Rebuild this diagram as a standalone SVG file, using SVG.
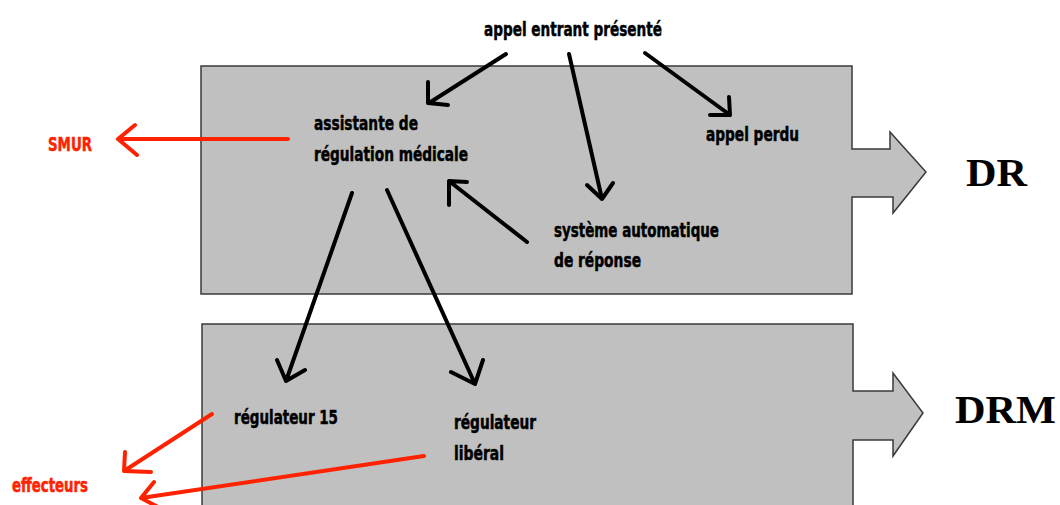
<svg xmlns="http://www.w3.org/2000/svg" width="1060" height="505" viewBox="0 0 1060 505">
<style>
.box{fill:#c0c0c0;stroke:#3a3a3a;stroke-width:1.5}
.t{font-family:"Liberation Sans Narrow","DejaVu Sans Condensed","Liberation Sans",sans-serif;font-weight:bold;font-size:19.5px;fill:#000;stroke:#000;stroke-width:0.5}
.r{fill:#ff2200;stroke:#ff2200}
.big{font-family:"Liberation Serif","Times New Roman",serif;font-weight:bold;font-size:41px;fill:#000}
.a{fill:none;stroke:#000;stroke-width:4;stroke-linecap:round;stroke-linejoin:round}
.ra{fill:none;stroke:#ff2200;stroke-width:4;stroke-linecap:round;stroke-linejoin:round}
</style>
<rect width="1060" height="505" fill="#fff"/>
<g id="DR">
<path class="box" d="M201,66 H852 V149 H890 V132 L926,172 L893,213 V197 H852 V294 H201 Z"/>
<text class="big" x="966" y="186" textLength="61" lengthAdjust="spacingAndGlyphs">DR</text>
</g>
<g id="DRM">
<path class="box" d="M202,324 H853 V391 H893 V373 L923,413 L893,456 V440 H853 V512 H202 Z"/>
<text class="big" x="955" y="423" textLength="101" lengthAdjust="spacingAndGlyphs">DRM</text>
</g>
<g id="appel-entrant"><text class="t" x="484" y="36" textLength="178" lengthAdjust="spacingAndGlyphs">appel entrant présenté</text></g>
<g id="assistante">
<text class="t" x="314" y="130" textLength="104" lengthAdjust="spacingAndGlyphs">assistante de</text>
<text class="t" x="314" y="161" textLength="154" lengthAdjust="spacingAndGlyphs">régulation médicale</text>
</g>
<g id="appel-perdu"><text class="t" x="706" y="141" textLength="93" lengthAdjust="spacingAndGlyphs">appel perdu</text></g>
<g id="systeme">
<text class="t" x="554" y="237" textLength="165" lengthAdjust="spacingAndGlyphs">système automatique</text>
<text class="t" x="554" y="267" textLength="87" lengthAdjust="spacingAndGlyphs">de réponse</text>
</g>
<g id="regulateur15"><text class="t" x="234" y="424" textLength="104" lengthAdjust="spacingAndGlyphs">régulateur 15</text></g>
<g id="regulateur-liberal">
<text class="t" x="454" y="429" textLength="82" lengthAdjust="spacingAndGlyphs">régulateur</text>
<text class="t" x="454" y="460" textLength="50" lengthAdjust="spacingAndGlyphs">libéral</text>
</g>
<g id="smur"><text class="t r" x="48" y="151" textLength="44" lengthAdjust="spacingAndGlyphs">SMUR</text></g>
<g id="effecteurs"><text class="t r" x="12" y="492" textLength="76" lengthAdjust="spacingAndGlyphs">effecteurs</text></g>
<g id="connectors">
<path class="a" d="M506,54 L429,103 M428,82 L428,103 L448,105"/>
<path class="a" d="M569,54 L602,199 M587,185 L602,199 L613,183"/>
<path class="a" d="M645,53 L730,115 M729,97 L730,115 L710,115"/>
<path class="a" d="M527,242 L449,181 M449,205 L449,181 L467,182"/>
<path class="a" d="M352,193 L286,381 M277,360 L286,381 L305,370"/>
<path class="a" d="M387,190 L475,384 M451,372 L475,384 L483,360"/>
<path class="ra" d="M288,139 L118,139 M135,125 L118,139 L137,155"/>
<path class="ra" d="M212,414 L124,471 M125,452 L124,471 L151,472"/>
<path class="ra" d="M424,456 L141,498 M154,482 L141,498 L158,507"/>
</g>
</svg>
